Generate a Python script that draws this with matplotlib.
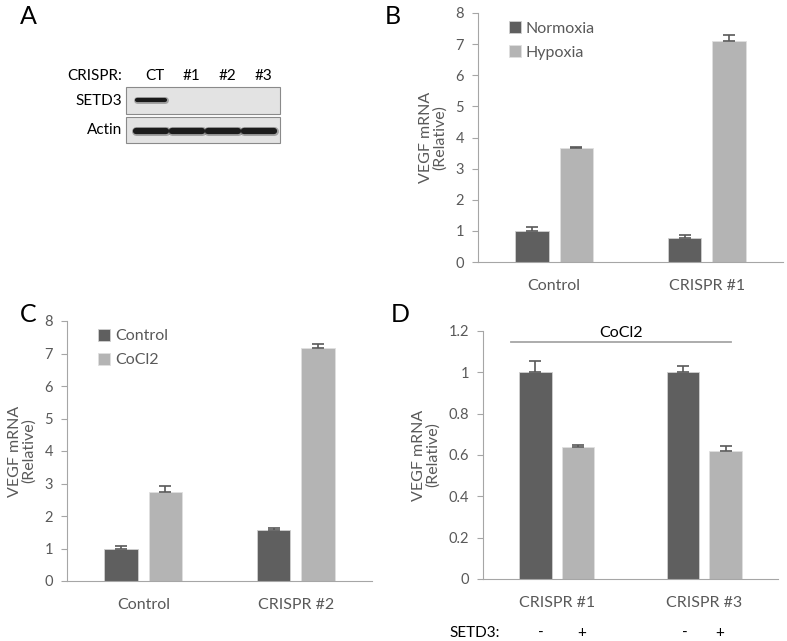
import numpy as np
import matplotlib
matplotlib.use('Agg')
from matplotlib import pyplot as plt
from matplotlib.patches import Rectangle

plt.rcParams['font.family'] = ['Lato', 'DejaVu Sans']

dark = '#5f5f5f'
light = '#b4b4b4'
txt = '#595959'
axcol = '#a6a6a6'

# panel B
b_groups = ['Control', 'CRISPR #1']
b_normoxia = [1.0, 0.78]
b_normoxia_err = [0.13, 0.10]
b_hypoxia = [3.65, 7.1]
b_hypoxia_err = [0.05, 0.18]

# panel C
c_groups = ['Control', 'CRISPR #2']
c_control = [1.0, 1.57]
c_control_err = [0.07, 0.07]
c_cocl2 = [2.75, 7.18]
c_cocl2_err = [0.18, 0.10]

# panel D
d_groups = ['CRISPR #1', 'CRISPR #3']
d_minus = [1.0, 1.0]
d_minus_err = [0.055, 0.03]
d_plus = [0.64, 0.62]
d_plus_err = [0.01, 0.025]

# panel A blot
lanes = ['CT', '#1', '#2', '#3']
setd3_band = [1, 0, 0, 0]


def px(x0, y0, x1, y1):
    # pixel box -> figure fraction
    return [x0 / 787, 1 - y1 / 641, (x1 - x0) / 787, (y1 - y0) / 641]


def bar_panel(ax, groups, v1, e1, v2, e2, ymax, yticks, ticklabels):
    x = np.arange(len(groups))
    w = 0.22
    off = 0.145
    ax.bar(x - off, v1, w, color=dark, edgecolor='#d0d0d0', linewidth=0.6, zorder=2)
    ax.bar(x + off, v2, w, color=light, edgecolor='#e0e0e0', linewidth=0.6, zorder=2)
    ax.errorbar(x - off, v1, yerr=[np.zeros(len(v1)), e1], fmt='none', ecolor=txt,
                elinewidth=1.2, capsize=4, capthick=1.2, zorder=3)
    ax.errorbar(x + off, v2, yerr=[np.zeros(len(v2)), e2], fmt='none', ecolor=txt,
                elinewidth=1.2, capsize=4, capthick=1.2, zorder=3)
    ax.set_xlim(-0.5, 1.5)
    ax.set_ylim(0, ymax)
    ax.set_yticks(yticks)
    ax.set_yticklabels(ticklabels, color=txt, fontsize=10.5)
    ax.set_xticks(x)
    ax.set_xticklabels(groups, color=txt, fontsize=11.5)
    ax.tick_params(axis='x', length=0, pad=12)
    ax.tick_params(axis='y', length=4, color=axcol, pad=6)
    for s in ['top', 'right']:
        ax.spines[s].set_visible(False)
    ax.spines['left'].set_color(axcol)
    ax.spines['bottom'].set_color(axcol)
    ax.set_ylabel('VEGF mRNA\n(Relative)', color=txt, fontsize=11.5, linespacing=1.0, labelpad=6)


fig = plt.figure(figsize=(7.87, 6.41), dpi=100)

axB = fig.add_axes(px(478, 13, 783, 262))
bar_panel(axB, b_groups, b_normoxia, b_normoxia_err, b_hypoxia, b_hypoxia_err,
          8, range(9), [str(i) for i in range(9)])
axB.legend(['Normoxia', 'Hypoxia'], loc='upper left', bbox_to_anchor=(0.055, 1.025),
           frameon=False, fontsize=11.5, handlelength=0.75, handleheight=0.75,
           handletextpad=0.3, labelspacing=0.6, labelcolor=txt)

axC = fig.add_axes(px(67, 321, 372, 581))
bar_panel(axC, c_groups, c_control, c_control_err, c_cocl2, c_cocl2_err,
          8, range(9), [str(i) for i in range(9)])
axC.legend(['Control', 'CoCl2'], loc='upper left', bbox_to_anchor=(0.055, 1.025),
           frameon=False, fontsize=11.5, handlelength=0.75, handleheight=0.75,
           handletextpad=0.3, labelspacing=0.6, labelcolor=txt)

axD = fig.add_axes(px(483, 331, 778, 579))
d_ticks = [0, 0.2, 0.4, 0.6, 0.8, 1.0, 1.2]
bar_panel(axD, d_groups, d_minus, d_minus_err, d_plus, d_plus_err,
          1.2, d_ticks, ['0', '0.2', '0.4', '0.6', '0.8', '1', '1.2'])
axD.set_ylim(0, 1.2)
axD.plot([-0.31, 1.18], [1.147, 1.147], color=axcol, lw=1.3, clip_on=False)
axD.text(0.435, 1.155, 'CoCl2', ha='center', va='bottom', fontsize=11.5, color='black')

# overlay in pixel coordinates for blot and labels
ov = fig.add_axes([0, 0, 1, 1])
ov.set_xlim(0, 787)
ov.set_ylim(641, 0)
ov.axis('off')
ov.patch.set_alpha(0)

for lbl, xx, yy in [('A', 28, 16), ('B', 393, 16), ('C', 28, 315), ('D', 400, 315)]:
    ov.text(xx, yy, lbl, fontsize=18, ha='center', va='center', color='black')

lane_x = [151, 187, 223, 259]
ov.text(122, 76, 'CRISPR:', ha='right', va='center', fontsize=11)
for l, xx in zip(lanes, lane_x):
    ov.text(xx + 4, 76, l, ha='center', va='center', fontsize=11)
ov.text(122, 101, 'SETD3', ha='right', va='center', fontsize=11)
ov.text(122, 130, 'Actin', ha='right', va='center', fontsize=11)
ov.add_patch(Rectangle((126, 87), 154, 27, facecolor='#e3e3e3', edgecolor='#8a8a8a', lw=0.8))
ov.add_patch(Rectangle((126, 117), 154, 26, facecolor='#e3e3e3', edgecolor='#8a8a8a', lw=0.8))
for on, xx in zip(setd3_band, lane_x):
    if on:
        ov.plot([xx - 14, xx + 14], [100, 100], color='#2a2a2a', lw=5, alpha=0.35, solid_capstyle='round')
        ov.plot([xx - 14, xx + 14], [100, 100], color='#1a1a1a', lw=3.0, solid_capstyle='round')
for xx in lane_x:
    ov.plot([xx - 15, xx + 15], [131, 131], color='#2a2a2a', lw=6.5, alpha=0.35, solid_capstyle='round')
    ov.plot([xx - 15, xx + 15], [131, 131], color='#1c1c1c', lw=4.5, solid_capstyle='round')

# SETD3 +/- row under panel D
ov.text(500, 633, 'SETD3:', ha='right', va='center', fontsize=11)
for s, xx in zip(['-', '+', '-', '+'], [541, 582, 685, 720]):
    ov.text(xx, 633, s, ha='center', va='center', fontsize=11)

fig.savefig('out.png', dpi=100)
